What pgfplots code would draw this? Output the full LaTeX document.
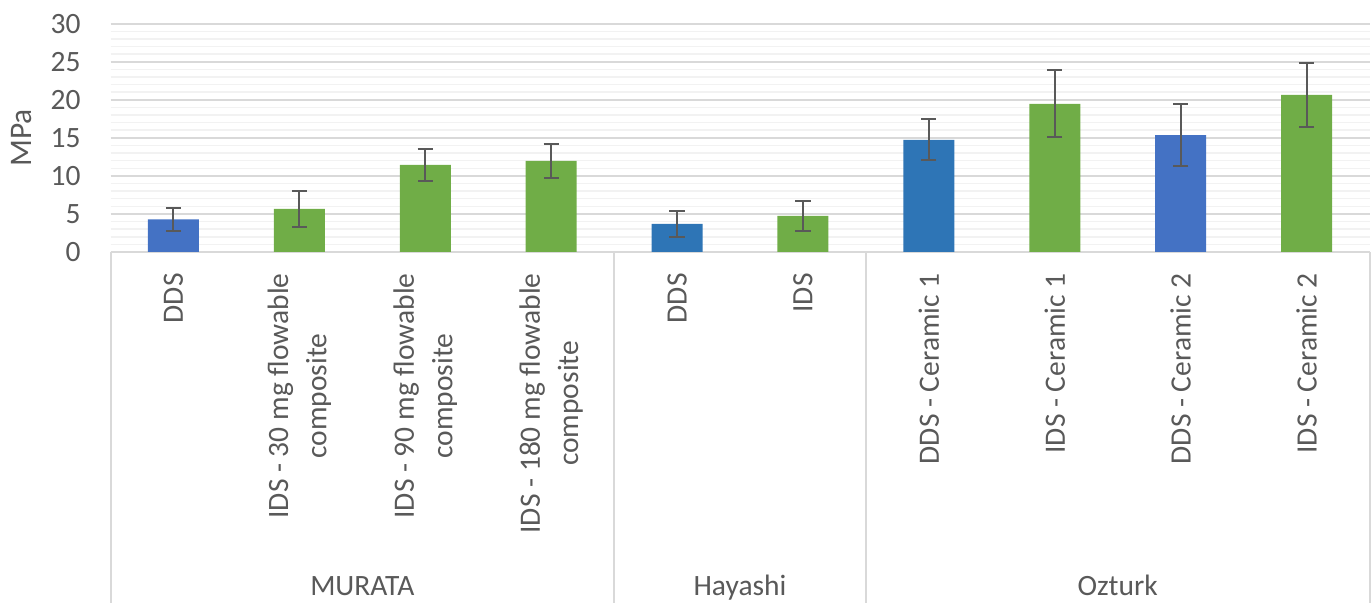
\documentclass[border=0pt]{standalone}
\usepackage{fontspec}
\setmainfont{Carlito}
\usepackage{pgfplots}
\usepackage{pgfplotstable}
\pgfplotsset{compat=1.18}
\definecolor{blueA}{HTML}{4472C4}
\definecolor{blueB}{HTML}{2E75B6}
\definecolor{greenA}{HTML}{70AD47}
\definecolor{txt}{HTML}{595959}
\definecolor{gridmaj}{HTML}{D9D9D9}
\definecolor{gridmin}{HTML}{F2F2F2}
\definecolor{errc}{HTML}{595959}

\pgfplotstableread{
x y e
0 4.30 1.52
8 15.35 4.10
}\blueAdata
\pgfplotstableread{
x y e
4 3.68 1.71
6 14.74 2.70
}\blueBdata
\pgfplotstableread{
x y e
1 5.66 2.33
2 11.45 2.12
3 11.97 2.20
5 4.74 2.00
7 19.47 4.40
9 20.66 4.20
}\greendata

\begin{document}
\begin{tikzpicture}[x=1pt,y=1pt]
\path[use as bounding box] (0,0) rectangle (685.5,301.5);
\begin{axis}[
  at={(55.25pt,175.5pt)}, anchor=south west, scale only axis,
  width=629.5pt, height=114.15pt,
  xmin=-0.5, xmax=9.5, ymin=0, ymax=30,
  ybar, bar width=25.5pt, bar shift=0pt,
  clip=false,
  axis x line*=bottom, axis y line*=left,
  y axis line style={draw=none},
  x axis line style={gridmaj, line width=1pt},
  major tick length=0pt, minor tick length=0pt,
  ytick={0,5,...,30},
  minor y tick num=4,
  ymajorgrids, yminorgrids,
  major grid style={gridmaj, line width=0.85pt},
  minor grid style={gridmin, line width=0.75pt},
  /pgf/number format/assume math mode=true,
  yticklabel style={text=txt, inner sep=0pt, font=\fontsize{14.75pt}{19.15pt}\selectfont},
  yticklabel shift=14.75pt,
  xtick={0,...,9},
  xticklabels={DDS, {IDS - 30 mg flowable\\composite}, {IDS - 90 mg flowable\\composite}, {IDS - 180 mg flowable\\composite}, DDS, IDS, DDS - Ceramic 1, IDS - Ceramic 1, DDS - Ceramic 2, IDS - Ceramic 2},
  xticklabel style={rotate=90, anchor=east, align=center, inner sep=0pt, text=txt, font=\fontsize{14.75pt}{19.15pt}\selectfont},
  xticklabel shift=10.5pt,
  error bars/y dir=both, error bars/y explicit,
  error bars/error bar style={errc, line width=1pt},
  error bars/error mark options={rotate=90, errc, line width=1pt, mark size=3.8pt},
]
\addplot[fill=blueA, draw=none] table[x=x, y=y, y error=e] {\blueAdata};
\addplot[fill=blueB, draw=none] table[x=x, y=y, y error=e] {\blueBdata};
\addplot[fill=greenA, draw=none] table[x=x, y=y, y error=e] {\greendata};
\draw[gridmaj, line width=1pt] (axis cs:-0.5,0) -- ++(0pt,-176pt);
\draw[gridmaj, line width=1pt] (axis cs:3.5,0) -- ++(0pt,-176pt);
\draw[gridmaj, line width=1pt] (axis cs:5.5,0) -- ++(0pt,-176pt);
\draw[gridmaj, line width=1pt] (axis cs:9.5,0) -- ++(0pt,-176pt);
\node[anchor=base, text=txt, font=\fontsize{14.75pt}{19.15pt}\selectfont, yshift=-172pt] at (axis cs:1.5,0) {MURATA};
\node[anchor=base, text=txt, font=\fontsize{14.75pt}{19.15pt}\selectfont, yshift=-172pt] at (axis cs:4.5,0) {Hayashi};
\node[anchor=base, text=txt, font=\fontsize{14.75pt}{19.15pt}\selectfont, yshift=-172pt] at (axis cs:7.5,0) {Ozturk};
\node[xshift=-44.4pt, rotate=90, text=txt, font=\fontsize{15.7pt}{19pt}\selectfont] at (rel axis cs:0,0.5) {MPa};
\end{axis}
\end{tikzpicture}
\end{document}
